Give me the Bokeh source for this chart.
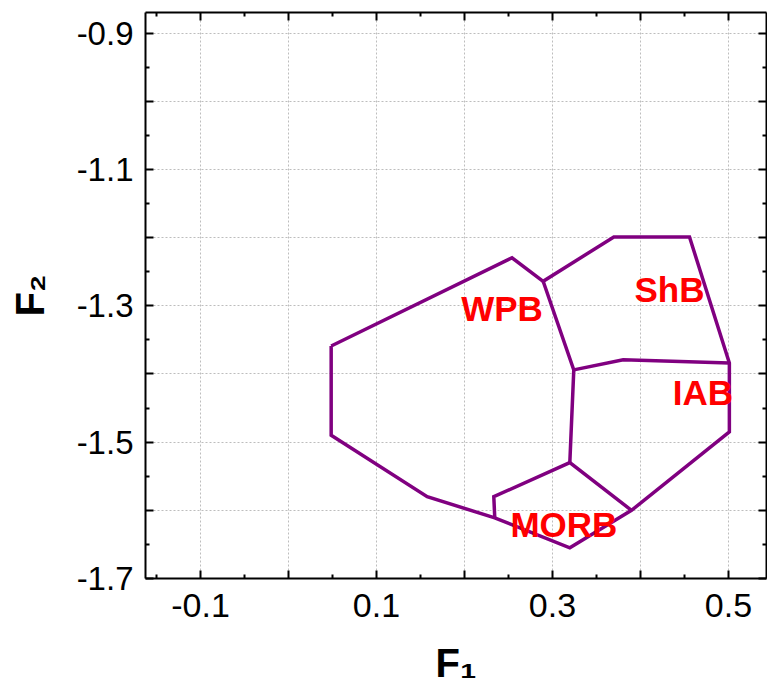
from bokeh.plotting import figure
from bokeh.models import ColumnDataSource, Range1d, LinearAxis, FixedTicker
from bokeh.core.properties import value
from bokeh.embed import file_html
from bokeh.resources import INLINE

# ---- data ----
outer_x = [0.0485, 0.254, 0.2894, 0.3697, 0.4557, 0.501, 0.501, 0.3898, 0.3197, 0.2344, 0.1576, 0.0485, 0.0485]
outer_y = [-1.359, -1.2295, -1.264, -1.199, -1.199, -1.384, -1.485, -1.600, -1.655, -1.611, -1.580, -1.490, -1.359]
wpb_shb_x = [0.2894, 0.3242, 0.3197]
wpb_shb_y = [-1.264, -1.394, -1.530]
shb_iab_x = [0.3242, 0.3803, 0.501]
shb_iab_y = [-1.394, -1.379, -1.384]
morb_x = [0.2344, 0.2333, 0.3197, 0.3898]
morb_y = [-1.611, -1.580, -1.530, -1.600]

field_names = ["WPB", "ShB", "IAB", "MORB"]
field_x = [0.2426, 0.433, 0.471, 0.313]
field_y = [-1.304, -1.276, -1.427, -1.621]

x_ticks = [-0.1, 0.0, 0.1, 0.2, 0.3, 0.4, 0.5]
x_tick_labels = ["-0.1", "", "0.1", "", "0.3", "", "0.5"]
x_minor = [-0.15, -0.05, 0.05, 0.15, 0.25, 0.35, 0.45]
y_ticks = [-1.7, -1.6, -1.5, -1.4, -1.3, -1.2, -1.1, -1.0, -0.9]
y_tick_labels = ["-1.7", "", "-1.5", "", "-1.3", "", "-1.1", "", "-0.9"]
y_minor = [-1.65, -1.55, -1.45, -1.35, -1.25, -1.15, -1.05, -0.95]

FONT = "Liberation Sans"
PURPLE = "#800080"

p = figure(width=767, height=689, output_backend="svg", toolbar_location=None,
           x_range=Range1d(-0.1625, 0.5432), y_range=Range1d(-1.7, -0.8697),
           x_axis_location=None, y_axis_location=None,
           min_border_left=145, min_border_right=1, min_border_top=12, min_border_bottom=111,
           background_fill_color="white", border_fill_color="white")
p.outline_line_color = None

xt = FixedTicker(ticks=x_ticks, minor_ticks=x_minor)
yt = FixedTicker(ticks=y_ticks, minor_ticks=y_minor)

def style_axis(ax):
    ax.axis_line_color = "black"
    ax.axis_line_width = 2
    ax.major_tick_line_color = "black"
    ax.major_tick_line_width = 2
    ax.minor_tick_line_color = "black"
    ax.minor_tick_line_width = 2
    ax.major_tick_in = 8
    ax.major_tick_out = 0
    ax.minor_tick_in = 4
    ax.minor_tick_out = 0
    ax.major_label_text_font = FONT
    ax.major_label_text_color = "black"
    ax.axis_label_text_font = FONT
    ax.axis_label_text_font_style = "bold"
    ax.axis_label_text_color = "black"

bottom = LinearAxis(ticker=xt)
style_axis(bottom)
bottom.major_label_overrides = dict(zip(x_ticks, x_tick_labels))
bottom.major_label_text_font_size = "34px"
bottom.major_label_standoff = 15
bottom.axis_label = "F\u2081"
bottom.axis_label_text_font_size = "40px"
bottom.axis_label_standoff = 21
p.add_layout(bottom, "below")

left = LinearAxis(ticker=yt)
style_axis(left)
left.major_label_overrides = dict(zip(y_ticks, y_tick_labels))
left.major_label_text_font_size = "33px"
left.major_label_standoff = 12
left.axis_label = "F\u2082"
left.axis_label_text_font_size = "40px"
left.axis_label_standoff = 22
p.add_layout(left, "left")

top = LinearAxis(ticker=xt)
style_axis(top)
top.major_label_overrides = {v: "" for v in x_ticks}
top.major_label_text_font_size = "1px"
top.major_label_standoff = 0
p.add_layout(top, "above")

right = LinearAxis(ticker=yt)
style_axis(right)
right.major_label_overrides = {v: "" for v in y_ticks}
right.major_label_text_font_size = "1px"
right.major_label_standoff = 0
p.add_layout(right, "right")

p.xgrid.ticker = xt
p.ygrid.ticker = yt
for g in (p.xgrid, p.ygrid):
    g.grid_line_color = "#bdbdbd"
    g.grid_line_dash = "2 2"
    g.grid_line_width = 1

p.multi_line(xs=[outer_x, wpb_shb_x, shb_iab_x, morb_x],
             ys=[outer_y, wpb_shb_y, shb_iab_y, morb_y],
             line_color=PURPLE, line_width=3.5, line_join="miter")

src = ColumnDataSource(dict(x=field_x, y=field_y, t=field_names))
p.text(x="x", y="y", text="t", source=src, text_color="#ff0000",
       text_font=value(FONT), text_font_style="bold", text_font_size="35px",
       text_align="center", text_baseline="alphabetic")

open("out.html", "w").write(file_html(p, INLINE))
